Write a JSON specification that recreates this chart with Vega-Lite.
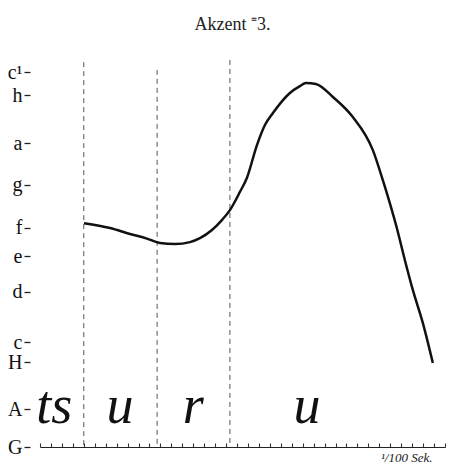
{
  "$schema": "https://vega.github.io/schema/vega-lite/v6.json",
  "width": 405,
  "height": 397,
  "autosize": {"type": "none"},
  "padding": {"left": 40, "top": 50, "right": 7, "bottom": 25},
  "background": "white",
  "title": {
    "text": "Akzent ⁼3.",
    "font": "Liberation Serif",
    "fontSize": 18,
    "fontWeight": "normal",
    "color": "#222",
    "anchor": "middle",
    "offset": 16,
    "dx": -10
  },
  "config": {"view": {"stroke": null}},
  "datasets": {
    "curve": [
      {"t": 4.02, "p": 10.15},
      {"t": 6.39, "p": 9.93},
      {"t": 8.22, "p": 9.66},
      {"t": 9.77, "p": 9.45},
      {"t": 10.96, "p": 9.25},
      {"t": 12.33, "p": 9.2},
      {"t": 13.7, "p": 9.29},
      {"t": 14.61, "p": 9.47},
      {"t": 15.71, "p": 9.84},
      {"t": 16.62, "p": 10.29},
      {"t": 17.35, "p": 10.74},
      {"t": 18.26, "p": 11.56},
      {"t": 18.9, "p": 12.2},
      {"t": 19.82, "p": 13.69},
      {"t": 20.55, "p": 14.6},
      {"t": 21.28, "p": 15.14},
      {"t": 22.83, "p": 16.05},
      {"t": 23.74, "p": 16.36},
      {"t": 24.3, "p": 16.5},
      {"t": 25.2, "p": 16.46},
      {"t": 26.76, "p": 15.87},
      {"t": 28.58, "p": 14.96},
      {"t": 30.41, "p": 13.46},
      {"t": 31.32, "p": 12.1},
      {"t": 31.96, "p": 11.06},
      {"t": 32.6, "p": 9.93},
      {"t": 33.33, "p": 8.48},
      {"t": 34.06, "p": 7.12},
      {"t": 34.98, "p": 5.62},
      {"t": 35.89, "p": 3.81}
    ],
    "dividers": [
      {"t": 4.0, "top": 17.45, "bottom": 0},
      {"t": 10.7, "top": 17.1, "bottom": 0},
      {"t": 17.35, "top": 17.55, "bottom": 0}
    ],
    "segments": [
      {"label": "ts", "t": 1.3, "p": 1.1},
      {"label": "u", "t": 7.3, "p": 1.1},
      {"label": "r", "t": 14.0, "p": 1.1},
      {"label": "u", "t": 24.4, "p": 1.1}
    ]
  },
  "layer": [
    {
      "data": {"name": "dividers"},
      "mark": {"type": "rule", "color": "#555", "strokeWidth": 1, "strokeDash": [5, 4]},
      "encoding": {
        "x": {"field": "t", "type": "quantitative", "scale": {"domain": [0, 37], "nice": false, "zero": false},
          "axis": {
            "values": [0,1,2,3,4,5,6,7,8,9,10,11,12,13,14,15,16,17,18,19,20,21,22,23,24,25,26,27,28,29,30,31,32,33,34,35,36,37],
            "tickCount": 100,
            "labels": false,
            "labelOverlap": false,
            "grid": false,
            "domainColor": "#222",
            "domainWidth": 1.2,
            "tickColor": "#333",
            "tickSize": -4,
            "tickWidth": 1.1,
            "title": "¹/100 Sek.",
            "titleFont": "Liberation Serif",
            "titleFontStyle": "italic",
            "titleFontWeight": "normal",
            "titleFontSize": 13,
            "titleColor": "#222",
            "titleAlign": "right",
            "titleX": 392,
            "titlePadding": 4
          }
        },
        "y": {"field": "top", "type": "quantitative", "scale": {"domain": [0, 18], "nice": false, "zero": false},
          "axis": {
            "values": [0, 1.72, 3.85, 4.76, 7.03, 8.65, 9.93, 11.88, 13.78, 15.95, 17],
            "tickCount": 100,
            "labelExpr": "{'0':'G','1.72':'A','3.85':'H','4.76':'c','7.03':'d','8.65':'e','9.93':'f','11.88':'g','13.78':'a','15.95':'h','17':'c¹'}[datum.value]",
            "labelOverlap": false,
            "domain": false,
            "grid": false,
            "offset": 10,
            "tickSize": 6,
            "tickWidth": 1.3,
            "tickColor": "#222",
            "labelPadding": 2,
            "labelFont": "Liberation Serif",
            "labelFontSize": 20,
            "labelColor": "#111",
            "title": null
          }
        },
        "y2": {"field": "bottom"}
      }
    },
    {
      "data": {"name": "curve"},
      "mark": {"type": "line", "color": "#111", "strokeWidth": 2.5, "interpolate": "monotone"},
      "encoding": {
        "x": {"field": "t", "type": "quantitative"},
        "y": {"field": "p", "type": "quantitative"}
      }
    },
    {
      "data": {"name": "segments"},
      "mark": {"type": "text", "font": "Liberation Serif", "fontStyle": "italic", "fontSize": 54, "align": "center", "baseline": "alphabetic", "color": "#111"},
      "encoding": {
        "x": {"field": "t", "type": "quantitative"},
        "y": {"field": "p", "type": "quantitative"},
        "text": {"field": "label"}
      }
    }
  ]
}
